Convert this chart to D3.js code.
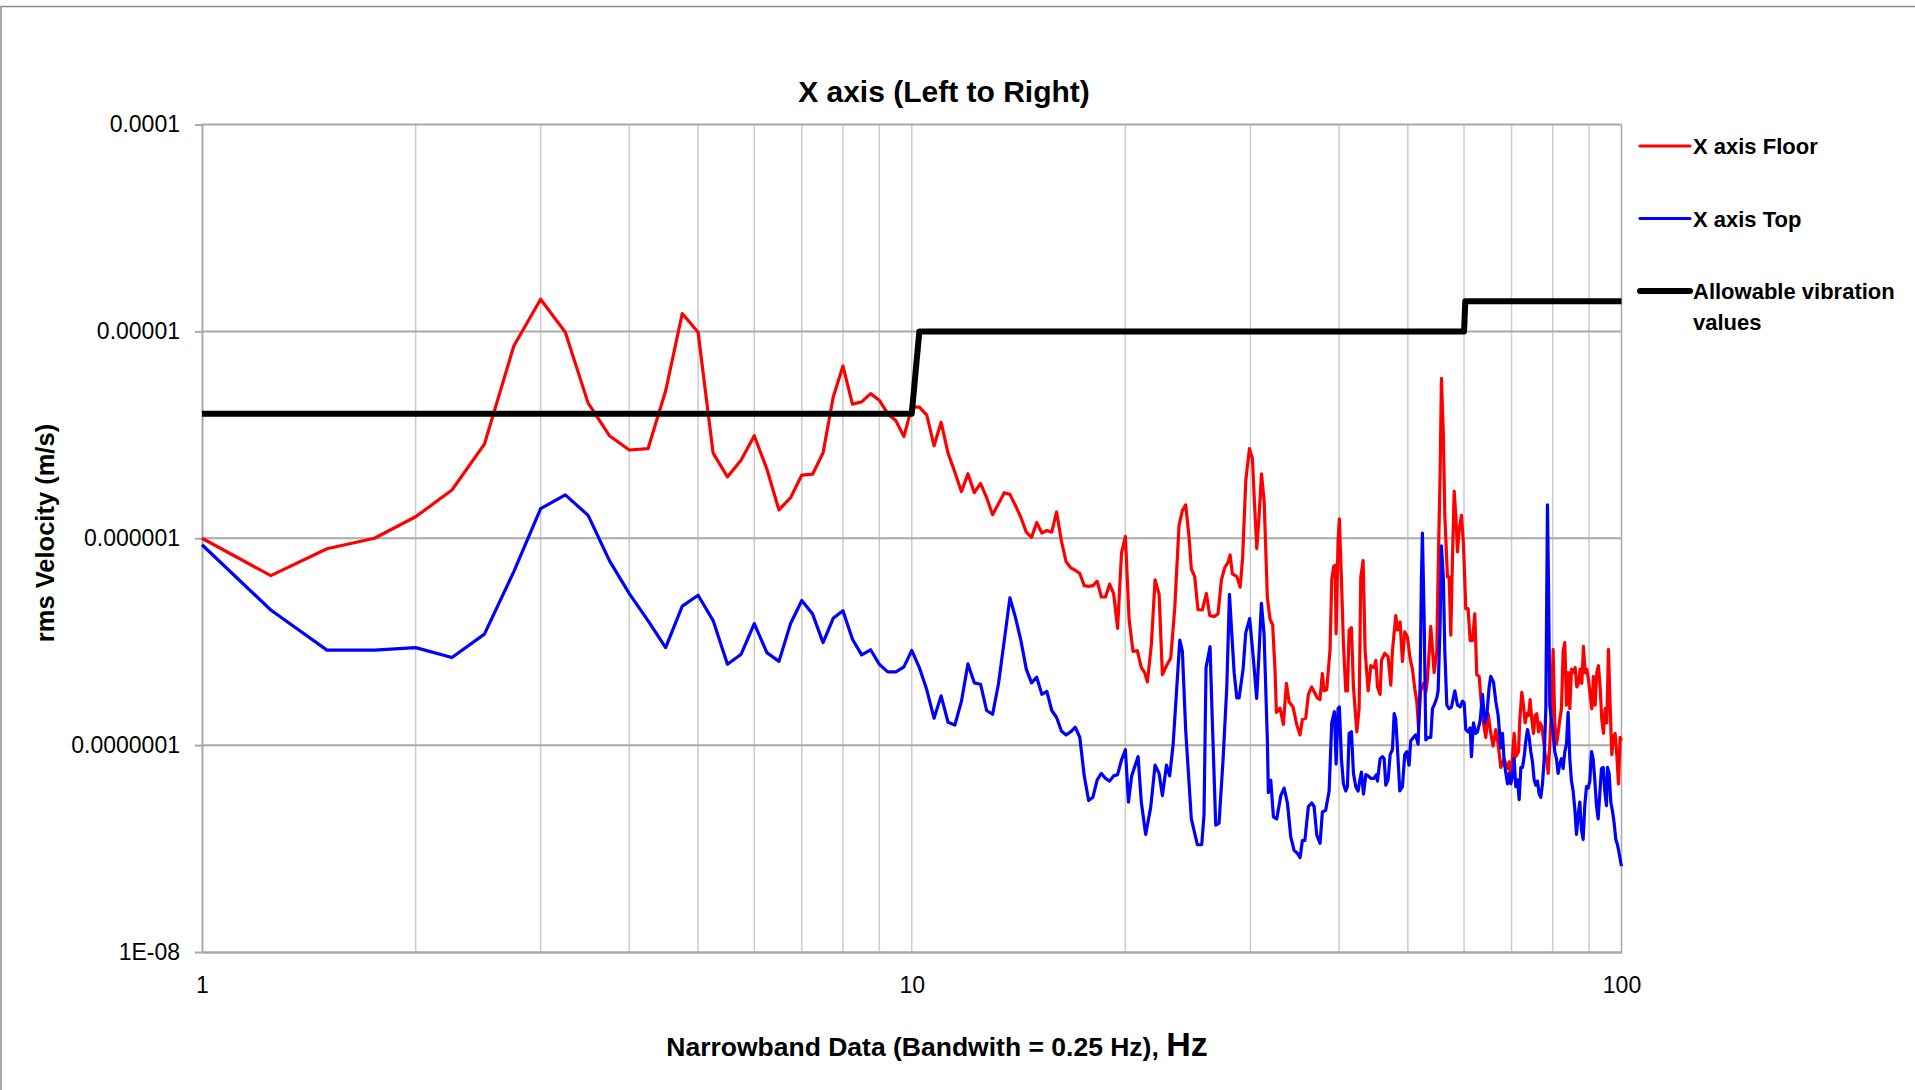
<!DOCTYPE html>
<html>
<head>
<meta charset="utf-8">
<script src="https://cdn.jsdelivr.net/npm/d3@7"></script>
<style>
  body { margin: 0; background: #fff; }
  text { font-family: "Liberation Sans", Arial, sans-serif; fill: #000; }
</style>
</head>
<body>
<div id="chart"></div>
<script>
// --- data: [frequency Hz, rms velocity m/s] ---
const floorData = [
  [1,1.0e-6],[1.25,6.6e-7],[1.5,8.9e-7],[1.75,1.0e-6],[2,1.27e-6],[2.25,1.71e-6],[2.5,2.85e-6],[2.75,8.5e-6],
  [3,1.43e-5],[3.25,9.9e-6],[3.5,4.5e-6],[3.75,3.13e-6],[4,2.67e-6],[4.25,2.71e-6],[4.5,5.15e-6],[4.75,1.22e-5],
  [5,9.9e-6],[5.25,2.58e-6],[5.5,1.98e-6],[5.75,2.39e-6],[6,3.13e-6],[6.25,2.16e-6],[6.5,1.37e-6],[6.75,1.57e-6],
  [7,2.02e-6],[7.25,2.04e-6],[7.5,2.59e-6],[7.75,4.8e-6],[8,6.8e-6],[8.25,4.45e-6],[8.5,4.56e-6],[8.75,5.0e-6],
  [9,4.65e-6],[9.25,4.0e-6],[9.5,3.7e-6],[9.75,3.1e-6],
  [10,4.3e-6],[10.25,4.3e-6],[10.5,3.94e-6],[10.75,2.8e-6],[11,3.64e-6],[11.25,2.58e-6],[11.5,2.09e-6],[11.75,1.68e-6],
  [12,2.05e-6],[12.25,1.66e-6],[12.5,1.84e-6],[12.75,1.57e-6],[13,1.3e-6],[13.25,1.47e-6],[13.5,1.66e-6],[13.75,1.63e-6],
  [14,1.44e-6],[14.25,1.26e-6],[14.5,1.07e-6],[14.75,1.01e-6],[15,1.19e-6],[15.25,1.06e-6],[15.5,1.09e-6],[15.75,1.07e-6],
  [16,1.34e-6],[16.25,9.7e-7],[16.5,7.7e-7],[16.75,7.2e-7],[17,7.0e-7],[17.25,6.75e-7],[17.5,5.9e-7],[17.75,5.85e-7],
  [18,5.9e-7],[18.25,6.2e-7],[18.5,5.2e-7],[18.75,5.2e-7],[19,6.0e-7],[19.25,5.4e-7],[19.5,3.67e-7],[19.75,8.5e-7],
  [20,1.02e-6],[20.24,4.06e-7],[20.5,2.84e-7],[20.79,2.86e-7],[21.06,2.37e-7],[21.29,2.24e-7],[21.48,2.02e-7],[21.76,3.08e-7],
  [22.02,6.29e-7],[22.31,5.36e-7],[22.55,2.19e-7],[22.85,2.42e-7],[23.17,2.64e-7],[23.47,4.57e-7],[23.8,1.15e-6],[24.06,1.36e-6],
  [24.32,1.45e-6],[24.59,1.01e-6],[24.77,7.08e-7],[25.04,6.54e-7],[25.31,4.52e-7],[25.67,4.5e-7],[26.01,5.41e-7],[26.29,4.23e-7],
  [26.66,4.18e-7],[27.01,4.31e-7],[27.31,6.29e-7],[27.61,7.22e-7],[27.91,7.66e-7],[28.09,8.3e-7],[28.3,6.72e-7],[28.71,6.53e-7],
  [29.02,5.8e-7],[29.25,7.97e-7],[29.56,1.91e-6],[29.91,2.71e-6],[30.2,2.43e-6],[30.36,1.63e-6],[30.63,8.91e-7],[30.86,1.28e-6],
  [31.1,2.05e-6],[31.37,1.51e-6],[31.7,5.15e-7],[31.98,4.06e-7],[32.25,3.82e-7],[32.5,2.28e-7],[32.64,1.44e-7],[33.03,1.51e-7],
  [33.39,1.26e-7],[33.72,1.99e-7],[34.01,1.62e-7],[34.45,1.53e-7],[34.86,1.26e-7],[35.24,1.12e-7],[35.51,1.33e-7],[35.9,1.35e-7],
  [36.21,1.76e-7],[36.6,1.91e-7],[37.28,1.69e-7],[37.6,1.66e-7],[37.89,2.22e-7],[38.1,1.83e-7],[38.43,1.85e-7],[38.85,2.9e-7],
  [39.06,6.3e-7],[39.3,7.3e-7],[39.5,7.4e-7],[39.62,3.46e-7],[39.87,9.7e-7],[40.04,1.24e-6],
  [40.31,6.3e-7],[40.57,3.1e-7],[40.88,1.83e-7],[41.1,1.83e-7],[41.33,3.6e-7],[41.64,3.7e-7],[41.91,1.91e-7],[42.37,1.16e-7],
  [42.69,1.5e-7],[42.92,6.5e-7],[43.25,7.8e-7],[43.53,2.84e-7],[43.96,1.83e-7],[44.34,2.42e-7],[44.82,2.37e-7],[45.07,2.57e-7],
  [45.31,1.91e-7],[45.7,1.76e-7],[45.9,2.57e-7],[46.4,2.78e-7],[46.9,2.67e-7],[47.31,1.95e-7],[47.56,2.84e-7],[48.08,4.23e-7],
  [48.34,3.6e-7],[48.76,3.94e-7],[49.13,2.54e-7],[49.5,3.53e-7],[49.93,3.33e-7],[50.37,2.62e-7],[50.75,2.33e-7],[51.14,1.87e-7],
  [51.47,1.63e-7],[51.75,1.23e-7],[52.14,1.83e-7],[52.6,1.99e-7],[53,1.8e-7],[53.28,2.07e-7],[53.86,3.75e-7],[54.45,2.24e-7],
  [54.92,2.84e-7],[55.16,6.8e-7],[55.52,2.07e-6],[55.76,5.93e-6],[56.12,3.08e-6],[56.37,1.29e-6],[56.86,6.5e-7],[57.17,6.5e-7],
  [57.48,3.4e-7],[57.79,8.0e-7],[58.11,1.69e-6],[58.42,1.29e-6],[58.74,8.6e-7],[59.06,1.1e-6],[59.51,1.29e-6],[59.89,9.35e-7],
  [60.34,4.57e-7],[60.8,4.57e-7],[61.2,3.2e-7],[61.66,3.2e-7],[62.13,4.31e-7],[62.53,2.19e-7],[63.01,2.15e-7],[63.49,1.56e-7],
  [63.9,1.28e-7],[64.39,1.09e-7],[64.88,1.42e-7],[65.44,1.14e-7],[65.94,9.9e-8],[66.51,1.19e-7],[67.02,1.01e-7],[67.6,7.8e-8],
  [68.34,8.6e-8],[68.93,7.7e-8],
  [69.45,8.3e-8],[69.83,6.7e-8],[70.21,8.8e-8],[70.59,1.14e-7],[70.97,8.8e-8],[71.59,9.3e-8],[71.9,1.33e-7],[72.37,1.8e-7],
  [72.76,1.56e-7],[73.15,1.28e-7],[73.55,1.42e-7],[73.95,1.39e-7],[74.35,1.66e-7],[74.75,1.33e-7],[75.16,1.14e-7],[75.57,1.39e-7],
  [75.98,1.42e-7],[76.39,1.16e-7],[76.8,1.28e-7],[77.22,1.23e-7],[77.56,1.09e-7],[78.06,9.0e-8],[78.4,8.6e-8],[78.82,7.3e-8],
  [79.24,1.0e-7],[79.76,1.66e-7],[80.1,2.9e-7],[80.54,1.28e-7],[80.98,1.01e-7],[81.41,1.14e-7],[81.86,1.33e-7],[82.3,1.5e-7],
  [82.75,2.84e-7],[83.2,3.13e-7],[83.65,1.56e-7],[84.1,2.24e-7],[84.56,1.5e-7],[85.02,2.33e-7],[85.48,2.24e-7],[86.04,2.37e-7],
  [86.5,1.91e-7],[86.97,1.99e-7],[87.44,2.33e-7],[87.92,1.99e-7],[88.39,3.0e-7],[88.87,2.24e-7],[89.35,2.33e-7],[89.84,2.07e-7],
  [90.32,1.76e-7],[90.81,1.5e-7],[91.3,2.15e-7],[91.8,1.56e-7],[92.3,2.24e-7],[92.8,2.42e-7],[93.3,1.91e-7],[93.81,1.33e-7],
  [94.32,1.14e-7],[94.83,1.5e-7],[95.35,1.28e-7],[95.86,2.9e-7],[96.38,1.56e-7],[96.9,9.0e-8],[97.43,1.09e-7],[97.96,1.14e-7],
  [98.49,9.0e-8],[99.02,6.5e-8],[99.56,1.09e-7],[100,1.05e-7]
];

const topData = [
  [1,9.3e-7],[1.25,4.5e-7],[1.5,2.88e-7],[1.75,2.88e-7],[2,2.96e-7],[2.25,2.65e-7],[2.5,3.44e-7],[2.75,6.9e-7],
  [3,1.39e-6],[3.25,1.62e-6],[3.5,1.29e-6],[3.75,7.8e-7],[4,5.4e-7],[4.25,4.0e-7],[4.5,2.96e-7],[4.75,4.7e-7],
  [5,5.3e-7],[5.25,4.0e-7],[5.5,2.46e-7],[5.75,2.75e-7],[6,3.87e-7],[6.25,2.8e-7],[6.5,2.54e-7],[6.75,3.87e-7],
  [7,5.0e-7],[7.25,4.3e-7],[7.5,3.13e-7],[7.75,4.1e-7],[8,4.46e-7],[8.25,3.25e-7],[8.5,2.73e-7],[8.75,2.89e-7],
  [9,2.46e-7],[9.25,2.26e-7],[9.5,2.26e-7],[9.75,2.39e-7],
  [10,2.87e-7],[10.25,2.37e-7],[10.5,1.85e-7],[10.75,1.35e-7],[11,1.73e-7],[11.25,1.29e-7],[11.5,1.25e-7],[11.75,1.63e-7],
  [12,2.47e-7],[12.25,2.0e-7],[12.5,1.97e-7],[12.75,1.47e-7],[13,1.41e-7],[13.25,1.98e-7],[13.5,3.2e-7],[13.75,5.15e-7],
  [14,4.14e-7],[14.25,3.2e-7],[14.5,2.33e-7],[14.75,2.0e-7],[15,2.13e-7],[15.25,1.76e-7],[15.5,1.82e-7],[15.75,1.47e-7],
  [16,1.36e-7],[16.25,1.17e-7],[16.5,1.12e-7],[16.75,1.16e-7],[17,1.22e-7],[17.25,1.09e-7],[17.5,7.1e-8],[17.75,5.4e-8],
  [18,5.6e-8],[18.25,6.8e-8],[18.5,7.3e-8],[18.75,6.9e-8],[19,6.7e-8],[19.25,7.1e-8],[19.5,7.2e-8],[19.75,8.5e-8],
  [20,9.5e-8],[20.2,5.3e-8],[20.41,7.1e-8],[20.84,8.8e-8],[21.06,5.3e-8],[21.36,3.7e-8],[21.71,5.0e-8],[22.02,8.0e-8],
  [22.31,7.3e-8],[22.55,5.7e-8],[22.85,8.0e-8],[23.09,7.1e-8],[23.35,1.01e-7],[23.63,1.91e-7],[23.86,3.22e-7],[24.06,2.84e-7],
  [24.32,1.18e-7],[24.77,4.4e-8],[25.26,3.3e-8],[25.62,3.3e-8],[25.81,4.6e-8],[25.98,2.37e-7],[26.32,2.99e-7],[26.52,1.28e-7],
  [26.81,4.1e-8],[27.1,4.2e-8],[27.46,8.6e-8],[27.79,1.91e-7],[28.03,5.36e-7],[28.46,2.24e-7],[28.71,1.69e-7],[28.92,1.69e-7],
  [29.3,2.33e-7],[29.55,3.49e-7],[29.93,4.09e-7],[30.29,2.62e-7],[30.62,1.68e-7],[30.86,2.84e-7],[31.09,4.85e-7],[31.36,3.46e-7],
  [31.7,1.05e-7],[31.8,5.9e-8],[32.05,6.75e-8],[32.33,4.5e-8],[32.68,4.4e-8],[33.11,5.7e-8],[33.47,6.2e-8],[33.83,5.25e-8],
  [34.2,3.6e-8],[34.57,3.1e-8],[34.95,3.0e-8],[35.25,2.86e-8],[35.51,3.46e-8],[35.8,3.46e-8],[36.21,5.05e-8],[36.6,5.25e-8],
  [36.89,5.05e-8],[37.21,3.67e-8],[37.61,3.35e-8],[37.89,4.75e-8],[38.3,4.84e-8],[38.73,6.0e-8],[39.06,1.28e-7],[39.4,1.45e-7],
  [39.62,8.1e-8],[39.87,1.5e-7],[40.04,1.53e-7],
  [40.31,8.6e-8],[40.57,6.5e-8],[40.88,6.0e-8],[41.1,6.3e-8],[41.33,1.14e-7],[41.64,1.16e-7],[41.91,7.3e-8],[42.23,6.3e-8],
  [42.55,6.0e-8],[42.83,6.9e-8],[43.01,7.4e-8],[43.3,5.8e-8],[43.63,7.2e-8],[43.96,7.1e-8],[44.34,6.9e-8],[44.82,6.9e-8],
  [45.17,7.2e-8],[45.31,6.7e-8],[45.7,8.6e-8],[46.05,8.8e-8],[46.3,8.6e-8],[46.55,6.4e-8],[46.9,6.8e-8],[47.21,9.0e-8],
  [47.56,9.5e-8],[47.83,1.42e-7],[48.08,1.33e-7],[48.34,9.7e-8],[48.71,6.0e-8],[49.13,6.3e-8],[49.5,9.0e-8],[49.82,9.3e-8],
  [50.2,8.0e-8],[50.47,1.05e-7],[50.91,1.09e-7],[51.3,1.12e-7],[51.69,1.01e-7],[52.02,1.91e-7],[52.25,6.3e-7],[52.42,1.06e-6],
  [52.71,4.2e-7],[53,1.06e-7],[53.46,1.09e-7],[53.86,1.09e-7],[54.16,1.5e-7],[54.45,1.56e-7],[54.92,1.69e-7],[55.16,1.83e-7],
  [55.52,3.9e-7],[55.76,9.2e-7],[56.12,6.3e-7],[56.37,2.84e-7],[56.74,1.56e-7],[57.17,1.5e-7],[57.61,1.53e-7],[58.23,1.83e-7],
  [58.74,1.56e-7],[59.25,1.53e-7],[59.7,1.63e-7],[60.02,1.6e-7],[60.34,1.19e-7],[60.8,1.16e-7],[61.2,1.21e-7],[61.46,8.8e-8],
  [61.86,1.28e-7],[62.33,1.14e-7],[62.67,1.16e-7],[63.21,1.31e-7],[63.7,1.76e-7],[64.18,1.28e-7],[64.6,1.39e-7],[65.09,1.91e-7],
  [65.44,2.15e-7],[66.01,2.02e-7],[66.51,1.63e-7],[67.02,1.39e-7],[67.6,9.7e-8],[67.97,1.14e-7],[68.34,8.3e-8],
  [69.08,6.5e-8],[69.45,7.3e-8],[69.83,6.5e-8],[70.21,7.1e-8],[70.59,8.6e-8],[70.97,6.3e-8],[71.36,6.8e-8],[71.75,5.45e-8],
  [72.14,7.8e-8],[72.53,7.8e-8],[72.92,8.8e-8],[73.32,1.05e-7],[73.71,1.19e-7],[74.11,1.09e-7],[74.51,9.3e-8],[74.92,8.3e-8],
  [75.32,6.8e-8],[75.73,6.4e-8],[76.14,6.7e-8],[76.56,5.8e-8],[76.97,5.6e-8],[77.39,6.5e-8],[77.81,8.6e-8],[78.23,1.5e-7],
  [78.65,1.45e-6],[78.9,6.3e-7],[79.24,1.56e-7],[79.67,1.33e-7],[80.1,1.14e-7],[80.54,9.3e-8],[80.98,8.6e-8],[81.41,7.3e-8],
  [81.86,8.1e-8],[82.3,8.6e-8],[82.75,7.7e-8],[83.2,9.3e-8],[83.65,1.01e-7],[84.1,1.44e-7],[84.56,8.6e-8],[85.02,6.7e-8],
  [85.48,6.0e-8],[85.95,4.9e-8],[86.41,3.7e-8],[86.88,4.6e-8],[87.35,5.3e-8],[87.82,3.9e-8],[88.3,3.5e-8],[88.77,5.1e-8],
  [89.26,6.3e-8],[89.74,6.2e-8],[90.23,6.7e-8],[90.72,9.3e-8],[91.21,8.6e-8],[91.7,6.8e-8],[92.2,5.1e-8],[92.7,4.4e-8],
  [93.2,5.8e-8],[93.71,7.7e-8],[94.22,7.8e-8],[94.73,6.0e-8],[95.24,5.1e-8],[95.55,7.8e-8],[96.07,7.3e-8],[96.59,5.3e-8],
  [97.11,4.8e-8],[97.64,4.2e-8],[98.17,3.5e-8],[98.7,3.3e-8],[99.24,3.0e-8],[99.78,2.7e-8],[100,2.6e-8]
];

const limitData = [[1,4e-6],[10,4e-6],[10.25,1e-5],[60,1e-5],[60.25,1.4e-5],[100,1.4e-5]];

const seriesNames = ["X axis Floor", "X axis Top", "Allowable vibration values"];
const seriesColors = ["#ff0000", "#0000ff", "#000000"];
const yTickValues = [1e-4, 1e-5, 1e-6, 1e-7, 1e-8];
const yTickLabels = ["0.0001", "0.00001", "0.000001", "0.0000001", "1E-08"];
const xTickValues = [1, 10, 100];

// --- setup ---
const width = 1915, height = 1090;
const svg = d3.select("#chart").append("svg").attr("width", width).attr("height", height);

const x = d3.scaleLog().domain([1, 100]).range([202, 1621.5]);
const y = d3.scaleLog().domain([1e-8, 1e-4]).range([952, 124.5]);

// chart frame
svg.append("rect").attr("x", 1).attr("y", 6.5).attr("width", 2000).attr("height", 2000)
  .attr("fill", "none").attr("stroke", "#8c8c8c").attr("stroke-width", 1.5);

// vertical gridlines (1-10, 10-100)
svg.append("g").selectAll("line").data(x.ticks().filter(d => d > 1 && d < 100)).join("line")
  .attr("x1", d => x(d)).attr("x2", d => x(d))
  .attr("y1", y(1e-4)).attr("y2", y(1e-8))
  .attr("stroke", "#cbcbcb").attr("stroke-width", 1.5);

// horizontal gridlines at decades
svg.append("g").selectAll("line").data(yTickValues.filter(d => d > 1e-8)).join("line")
  .attr("x1", x(1)).attr("x2", x(100))
  .attr("y1", d => y(d)).attr("y2", d => y(d))
  .attr("stroke", "#a9a9a9").attr("stroke-width", 2);

// right border
svg.append("line").attr("x1", x(100)).attr("x2", x(100)).attr("y1", y(1e-4)).attr("y2", y(1e-8))
  .attr("stroke", "#a9a9a9").attr("stroke-width", 1.5);

// y axis
const yAxis = svg.append("g").attr("transform", `translate(${x(1)},0)`)
  .call(d3.axisLeft(y).tickValues(yTickValues).tickFormat((d, i) => yTickLabels[i]).tickSize(7).tickSizeOuter(0).tickPadding(15));
yAxis.select(".domain").attr("stroke", "#a9a9a9").attr("stroke-width", 2);
yAxis.selectAll(".tick line").attr("stroke", "#a9a9a9").attr("stroke-width", 2);
yAxis.selectAll("text").attr("font-size", 23).attr("font-family", null);

// x axis
const xAxis = svg.append("g").attr("transform", `translate(0,${y(1e-8)})`)
  .call(d3.axisBottom(x).tickValues(xTickValues).tickFormat(d3.format("d")).tickSize(0).tickSizeOuter(0).tickPadding(25));
xAxis.select(".domain").attr("stroke", "#a9a9a9").attr("stroke-width", 2.5);
xAxis.selectAll("text").attr("font-size", 23).attr("font-family", null);

// series lines
const line = d3.line().x(d => x(d[0])).y(d => y(d[1]));
[floorData, topData].forEach((data, i) => {
  svg.append("path").datum(data).attr("d", line)
    .attr("fill", "none").attr("stroke", seriesColors[i]).attr("stroke-width", 3.2)
    .attr("stroke-linejoin", "round");
});
svg.append("path").datum(limitData).attr("d", line)
  .attr("fill", "none").attr("stroke", seriesColors[2]).attr("stroke-width", 6)
  .attr("stroke-linejoin", "round");

// title
svg.append("text").attr("x", 944).attr("y", 102).attr("text-anchor", "middle")
  .attr("font-size", 30).attr("font-weight", "bold").text("X axis (Left to Right)");

// axis titles
const xt = svg.append("text").attr("x", 937).attr("y", 1056).attr("text-anchor", "middle").attr("font-weight", "bold");
xt.append("tspan").attr("font-size", 26.5).text("Narrowband Data (Bandwith = 0.25 Hz), ");
xt.append("tspan").attr("font-size", 34).text("Hz");

svg.append("text").attr("transform", "translate(54,533) rotate(-90)").attr("text-anchor", "middle")
  .attr("font-size", 25.5).attr("font-weight", "bold").text("rms Velocity (m/s)");

// legend
const legendY = [146, 218.5, 291];
const legend = svg.append("g");
seriesNames.forEach((name, i) => {
  legend.append("line").attr("x1", 1640).attr("x2", 1690).attr("y1", legendY[i]).attr("y2", legendY[i])
    .attr("stroke", seriesColors[i]).attr("stroke-width", i === 2 ? 6 : 3.2).attr("stroke-linecap", "round");
  const t = legend.append("text").attr("x", 1693).attr("y", legendY[i] + 8)
    .attr("font-size", 22).attr("font-weight", "bold");
  const parts = i === 2 ? ["Allowable vibration", "values"] : [name];
  parts.forEach((p, j) => t.append("tspan").attr("x", 1693).attr("dy", j === 0 ? 0 : 31).text(p));
});
</script>
</body>
</html>
